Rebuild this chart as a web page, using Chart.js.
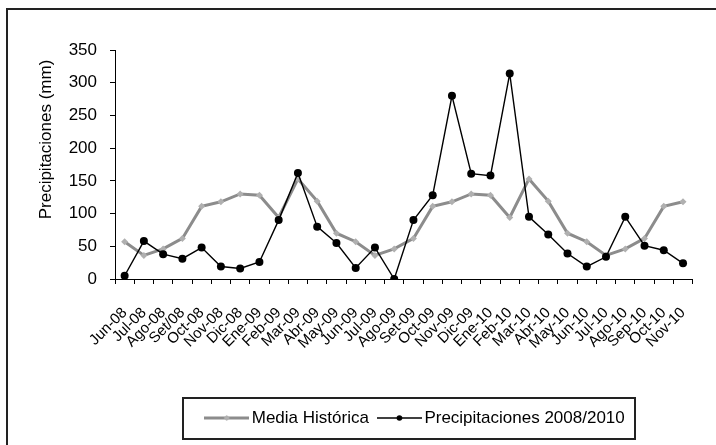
<!DOCTYPE html>
<html><head><meta charset="utf-8">
<script src="https://cdn.jsdelivr.net/npm/chart.js@4/dist/chart.umd.min.js"></script>
<style>
html,body{margin:0;padding:0;background:#fff;overflow:hidden;}
#wrap{position:relative;width:716px;height:445px;overflow:hidden;}
#frame{position:absolute;left:6px;top:8px;width:730px;height:460px;border:2px solid #222;box-sizing:border-box;pointer-events:none}
canvas{position:absolute;left:0;top:0}
</style></head><body>
<div id="wrap"><canvas id="c" width="716" height="445"></canvas><div id="frame"></div></div>
<script>
const categories = ["Jun-08","Jul-08","Ago-08","Set/08","Oct-08","Nov-08","Dic-08","Ene-09","Feb-09","Mar-09","Abr-09","May-09","Jun-09","Jul-09","Ago-09","Set-09","Oct-09","Nov-09","Dic-09","Ene-10","Feb-10","Mar-10","Abr-10","May-10","Jun-10","Jul-10","Ago-10","Sep-10","Oct-10","Nov-10"];
const mediaHistorica = [57,36,46,62,111,118,130,128,94,153,119,70,57,36,46,62,111,118,130,128,94,153,119,70,57,36,46,62,111,118];
const precipitaciones = [5,58,38,31,48,19,16,26,90,162,80,55,17,48,0,90,128,280,161,158,314,95,68,39,19,34,95,51,44,24];
const seriesNames = ["Media Histórica","Precipitaciones 2008/2010"];
const yTicks = [0,50,100,150,200,250,300,350];
const yTitle = "Precipitaciones (mm)";

const FONT = "'Liberation Sans', Arial, sans-serif";
Chart.defaults.font.family = FONT;
Chart.defaults.color = '#000';

function sample(lineColor, lineWidth, marker, mColor, r){
  const c = document.createElement('canvas'); c.width = 45; c.height = 12;
  const x = c.getContext('2d');
  x.strokeStyle = lineColor; x.lineWidth = lineWidth;
  x.beginPath(); x.moveTo(0,6); x.lineTo(45,6); x.stroke();
  x.fillStyle = mColor; x.beginPath();
  if (marker === 'circle') { x.arc(22.5,6,r,0,Math.PI*2); }
  else { x.moveTo(22.5,6-r); x.lineTo(22.5+r,6); x.lineTo(22.5,6+r); x.lineTo(22.5-r,6); x.closePath(); }
  x.fill();
  return c;
}
const sampleImgs = [sample('#8c8c8c',3,'diamond','#b0b0b0',3), sample('#000',1.5,'circle','#000',2.8)];

const legendShift = {
  id:'legendShift',
  afterLayout(chart){
    const lg = chart.legend; if(!lg) return;
    lg.left += 67; lg.right += 67;
  }
};
const legendBorder = {
  id:'legendBorder',
  afterDraw(chart){
    const hb = chart.legend && chart.legend.legendHitBoxes; if(!hb||!hb.length) return;
    const first = hb[0], last = hb[hb.length-1];
    const cy = first.top + first.height/2;
    const ctx = chart.ctx; ctx.save(); ctx.strokeStyle='#222'; ctx.lineWidth=2;
    const l = Math.round(first.left - 27), r = Math.round(last.left + last.width + 10);
    ctx.strokeRect(l, Math.round(cy - 20.5), r - l, 41);
    ctx.restore();
  }
};
const titleShift = {
  id:'titleShift',
  beforeDraw(chart){
    const s = chart.scales.y;
    if (s && !s.__patched){
      const orig = s.drawTitle;
      s.drawTitle = function(){ const c=this.ctx; c.save(); c.translate(0,-25); orig.apply(this, arguments); c.restore(); };
      s.__patched = true;
    }
  }
};

new Chart(document.getElementById('c'), {
  type:'line',
  data:{
    labels: categories,
    datasets:[
      {label: seriesNames[0], data: mediaHistorica, borderColor:'#8c8c8c', borderWidth:3, pointStyle:'rectRot', pointRadius:3.5, pointBackgroundColor:'#b0b0b0', pointBorderColor:'#b0b0b0', pointBorderWidth:0, tension:0, order:2},
      {label: seriesNames[1], data: precipitaciones, borderColor:'#000', borderWidth:1.4, pointStyle:'circle', pointRadius:4, pointBackgroundColor:'#000', pointBorderColor:'#000', pointBorderWidth:0, tension:0, order:1}
    ]
  },
  options:{
    responsive:false, animation:false,
    layout:{padding:{top:50,right:15,bottom:8.5,left:0}},
    plugins:{
      tooltip:{enabled:false},
      legend:{
        position:'bottom',
        labels:{
          usePointStyle:true, pointStyleWidth:33, padding:14, color:'#000',
          font:{family:FONT,size:17},
          generateLabels(chart){
            return chart.data.datasets.map((ds,i)=>({text: ds.label, pointStyle: sampleImgs[i], fillStyle:'rgba(0,0,0,0)', strokeStyle:'rgba(0,0,0,0)', lineWidth:0, hidden:false, datasetIndex:i, fontColor:'#000'}));
          }
        }
      }
    },
    scales:{
      x:{
        offset:true,
        grid:{offset:true, drawOnChartArea:false, drawTicks:true, tickLength:5, color:'#000', lineWidth:1},
        border:{display:true, color:'#000', width:1},
        ticks:{autoSkip:false, minRotation:45, maxRotation:45, padding:20, color:'#000', font:{family:FONT,size:15}},
        afterFit(s){ s.height = 116.5; }
      },
      y:{
        min:0, max:350,
        afterBuildTicks(s){ s.ticks = yTicks.map(v=>({value:v})); },
        grid:{drawOnChartArea:false, drawTicks:true, tickLength:5, color:'#000', lineWidth:1},
        border:{display:true, color:'#000', width:1},
        ticks:{padding:13, color:'#000', font:{family:FONT,size:17}},
        title:{display:true, text:yTitle, color:'#000', font:{family:FONT,size:17}, padding:{top:36,bottom:0}},
        afterFit(s){ s.width = 115; }
      }
    }
  },
  plugins:[legendShift, legendBorder, titleShift]
});
</script>
</body></html>
